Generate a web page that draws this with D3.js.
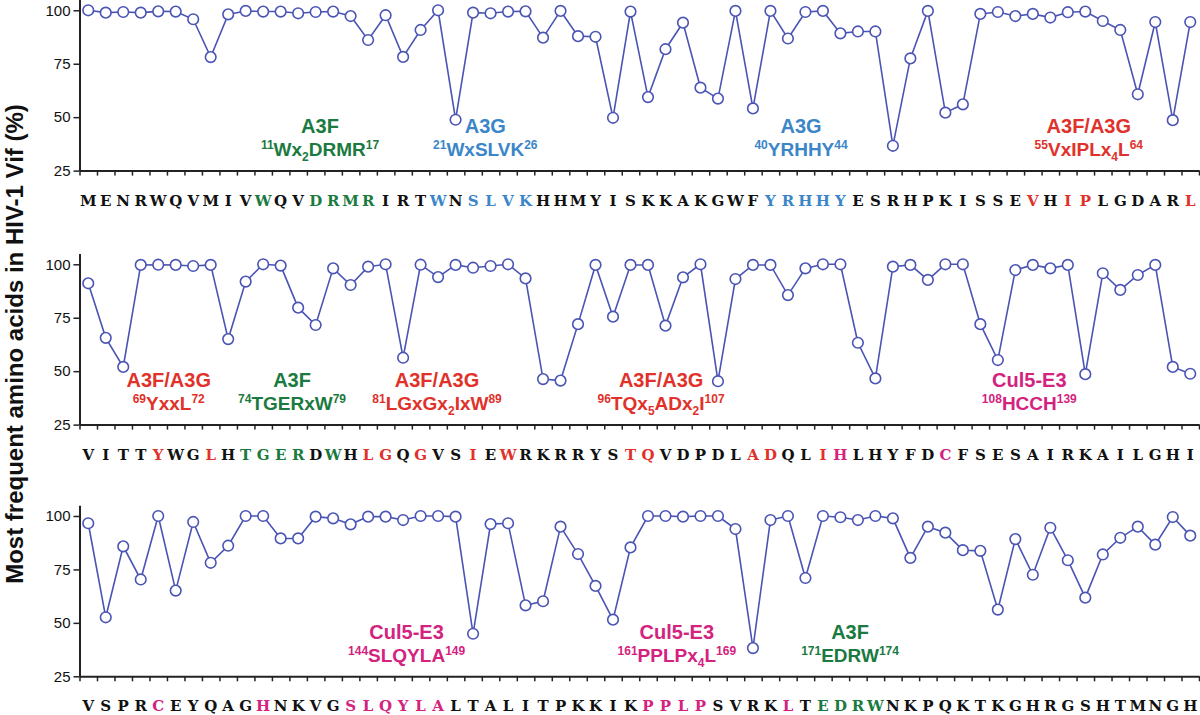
<!DOCTYPE html>
<html><head><meta charset="utf-8">
<script src="https://cdn.jsdelivr.net/npm/d3@7"></script>
<style>body{margin:0;background:#fff}svg{display:block}</style>
</head><body>
<script>
// ---------------- data ----------------
const sequence = "MENRWQVMIVWQVDRMRIRTWNSLVKHHMYISKKAKGWFYRHHYESRHPKISSEVHIPLGDARLVITTYWGLHTGERDWHLGQGVSIEWRKRRYSTQVDPDLADQLIHLHYFDCFSESAIRKAILGHIVSPRCEYQAGHNKVGSLQYLALTALITPKKIKPPLPSVRKLTEDRWNKPQKTKGHRGSHTMNGH";

const values1 = [100,98.9,99.2,98.9,99.5,99.4,95.8,78.1,98.1,99.7,99.4,99.4,98.6,99.2,99.4,97.3,86.1,97.7,78.2,90.8,
  100,48.8,98.9,98.6,99.4,99.5,87.2,99.7,87.9,87.6,49.7,99.4,59.4,81.8,94.2,63.8,58.7,99.7,54.1,99.7,
  86.8,99.2,99.7,89.2,90.1,90.1,36.6,77.5,99.7,52.1,56.0,98.3,99.2,97.3,98.3,96.6,99.1,99.4,95.0,90.8,
  60.7,94.5,48.6,94.5];
const values2 = [91.1,65.6,52.0,99.7,99.8,99.7,99.2,99.7,65.0,91.9,100,99.4,79.7,71.6,98.1,90.3,98.9,100,56.3,99.8,
  94.0,99.7,98.4,99.2,100,93.4,46.3,45.6,72.0,99.7,75.5,99.7,99.7,71.3,93.9,100,45.3,93.1,99.7,99.7,
  85.6,98.1,100,100,63.3,46.6,98.9,99.7,92.7,100,100,72.0,55.2,97.3,99.7,98.1,99.7,48.6,95.8,88.0,
  95.0,99.7,52.0,48.8];
const values3 = [96.6,52.6,85.8,70.3,100,65.1,97.2,78.1,86.1,100,100,89.5,89.5,99.7,98.9,96.1,99.7,99.7,98.1,100,
  100,99.7,44.9,96.2,96.6,58.2,60.1,95.0,82.2,67.3,51.5,85.3,100,100,99.7,100,100,93.9,38.2,98.1,
  100,71.0,100,99.4,98.1,100,98.9,80.4,95.0,92.2,84.0,83.7,56.2,89.2,72.5,94.5,79.3,61.8,82.0,89.8,
  95.0,86.6,99.5,90.8];

const yTicks = [25, 50, 75, 100];

// residue positions (1-based) coloured in the sequence row
const greenResidues = [11,14,15,16,17,74,75,76,77,79,171,172,173,174];
const blueResidues = [21,23,24,25,26,40,41,42,43,44];
const redResidues = [55,57,58,64,69,72,81,82,84,87,89,96,97,103,104,107];
const magentaResidues = [108,114,133,139,144,145,146,147,148,149,161,162,163,164,169];

// annotations: panel, centre (in residue-slot units within the panel), group, label, motif
const annPanel = [0,0,0,0,1,1,1,1,1,2,2,2];
const annCenter = [13.25,22.7,40.75,57.2,4.6,11.65,19.94,32.75,53.8,18.2,33.65,43.55];
const annGroup = ["A3F","A3G","A3G","A3F/A3G","A3F/A3G","A3F","A3F/A3G","A3F/A3G","Cul5","Cul5","Cul5","A3F"];
const annTitle = ["A3F","A3G","A3G","A3F/A3G","A3F/A3G","A3F","A3F/A3G","A3F/A3G","Cul5-E3","Cul5-E3","Cul5-E3","A3F"];
const annMotif = ["^11|Wx|_2|DRMR|^17","^21|WxSLVK|^26","^40|YRHHY|^44","^55|VxIPLx|_4|L|^64",
  "^69|YxxL|^72","^74|TGERxW|^79","^81|LGxGx|_2|IxW|^89","^96|TQx|_5|ADx|_2|I|^107","^108|HCCH|^139",
  "^144|SLQYLA|^149","^161|PPLPx|_4|L|^169","^171|EDRW|^174"];

const yTitle = "Most frequent amino acids in HIV-1 Vif (%)";

// ---------------- styling / layout ----------------
const W = 1200, H = 715;
const colors = {"A3F":"#1b7a40","A3G":"#3b86c8","A3F/A3G":"#e0322b","Cul5":"#d3237f"};
const lineColor = "#4a54b4";
const panelTop = [10.3, 264.3, 516];
const plotH = 171;           // for domain 25..105
const x0 = 79.5, x1 = 1199;
const sans = "'Liberation Sans', Arial, Helvetica, sans-serif";

const svg = d3.select("body").append("svg").attr("width", W).attr("height", H);

const xb = d3.scaleLinear().domain([0, 64]).range([x0, x1]);
const panels = [values1, values2, values3];

function resColor(pos){
  if (greenResidues.includes(pos)) return colors["A3F"];
  if (blueResidues.includes(pos)) return colors["A3G"];
  if (redResidues.includes(pos)) return colors["A3F/A3G"];
  if (magentaResidues.includes(pos)) return colors["Cul5"];
  return "#111";
}

panels.forEach((vals, p) => {
  const y100 = panelTop[p];
  const y = d3.scaleLinear().domain([25, 105]).range([y100 + 160.3, y100 + 160.3 - plotH]);
  const g = svg.append("g");

  // line + points
  const line = d3.line().x((d, i) => xb(i + 0.5)).y(d => y(d));
  g.append("path").datum(vals).attr("d", line)
    .attr("fill", "none").attr("stroke", lineColor).attr("stroke-width", 1.6);
  g.selectAll("circle").data(vals).join("circle")
    .attr("cx", (d, i) => xb(i + 0.5)).attr("cy", d => y(d)).attr("r", 5.3)
    .attr("fill", "#fff").attr("stroke", lineColor).attr("stroke-width", 1.6);

  // y axis
  const ya = g.append("g").attr("transform", `translate(${x0},0)`)
    .call(d3.axisLeft(y).tickValues(yTicks).tickSize(6).tickSizeOuter(0).tickPadding(3));
  ya.select(".domain").attr("stroke", "#222").attr("stroke-width", 2);
  ya.selectAll(".tick line").attr("stroke", "#222").attr("stroke-width", 1.5);
  ya.selectAll(".tick text").attr("font-family", sans).attr("font-size", 15).attr("fill", "#111");

  // x axis
  const xa = g.append("g").attr("transform", `translate(0,${y(25)})`)
    .call(d3.axisBottom(xb).tickValues(d3.range(0, 65)).tickFormat("").tickSize(5).tickSizeOuter(0));
  xa.select(".domain").attr("stroke", "#222").attr("stroke-width", 2);
  xa.selectAll(".tick line").attr("stroke", "#222").attr("stroke-width", 1.5);

  // sequence letters
  const letters = sequence.slice(p * 64, p * 64 + 64).split("");
  g.selectAll("text.res").data(letters).join("text").attr("class", "res")
    .attr("x", (d, i) => xb(i + 0.5)).attr("y", y(25) + 35)
    .attr("text-anchor", "middle")
    .attr("font-family", "'DejaVu Serif', serif")
    .attr("font-weight", "bold").attr("font-size", 15)
    .attr("fill", (d, i) => resColor(p * 64 + i + 1))
    .text(d => d);

  // annotations
  annPanel.forEach((ap, k) => {
    if (ap !== p) return;
    const cx = xb(annCenter[k] + 0.5);
    const col = colors[annGroup[k]];
    g.append("text").attr("x", cx).attr("y", y100 + 123).attr("text-anchor", "middle")
      .attr("font-family", sans).attr("font-weight", "bold").attr("font-size", 20)
      .attr("fill", col).text(annTitle[k]);
    const t = g.append("text").attr("x", cx).attr("y", y100 + 146).attr("text-anchor", "middle")
      .attr("font-family", sans).attr("font-weight", "bold").attr("font-size", 19).attr("fill", col);
    let shift = 0;
    annMotif[k].split("|").forEach(seg => {
      let kind = "n", txt = seg;
      if (seg[0] === "^") { kind = "sup"; txt = seg.slice(1); }
      else if (seg[0] === "_") { kind = "sub"; txt = seg.slice(1); }
      const target = kind === "sup" ? -7 : kind === "sub" ? 5 : 0;
      t.append("tspan").attr("dy", target - shift)
        .attr("font-size", kind === "n" ? 19 : 12).text(txt);
      shift = target;
    });
  });
});

// y axis title
svg.append("text").attr("transform", "translate(23,344) rotate(-90)")
  .attr("text-anchor", "middle").attr("font-family", sans).attr("font-weight", "bold")
  .attr("font-size", 24).attr("fill", "#111").text(yTitle);
</script>
</body></html>
